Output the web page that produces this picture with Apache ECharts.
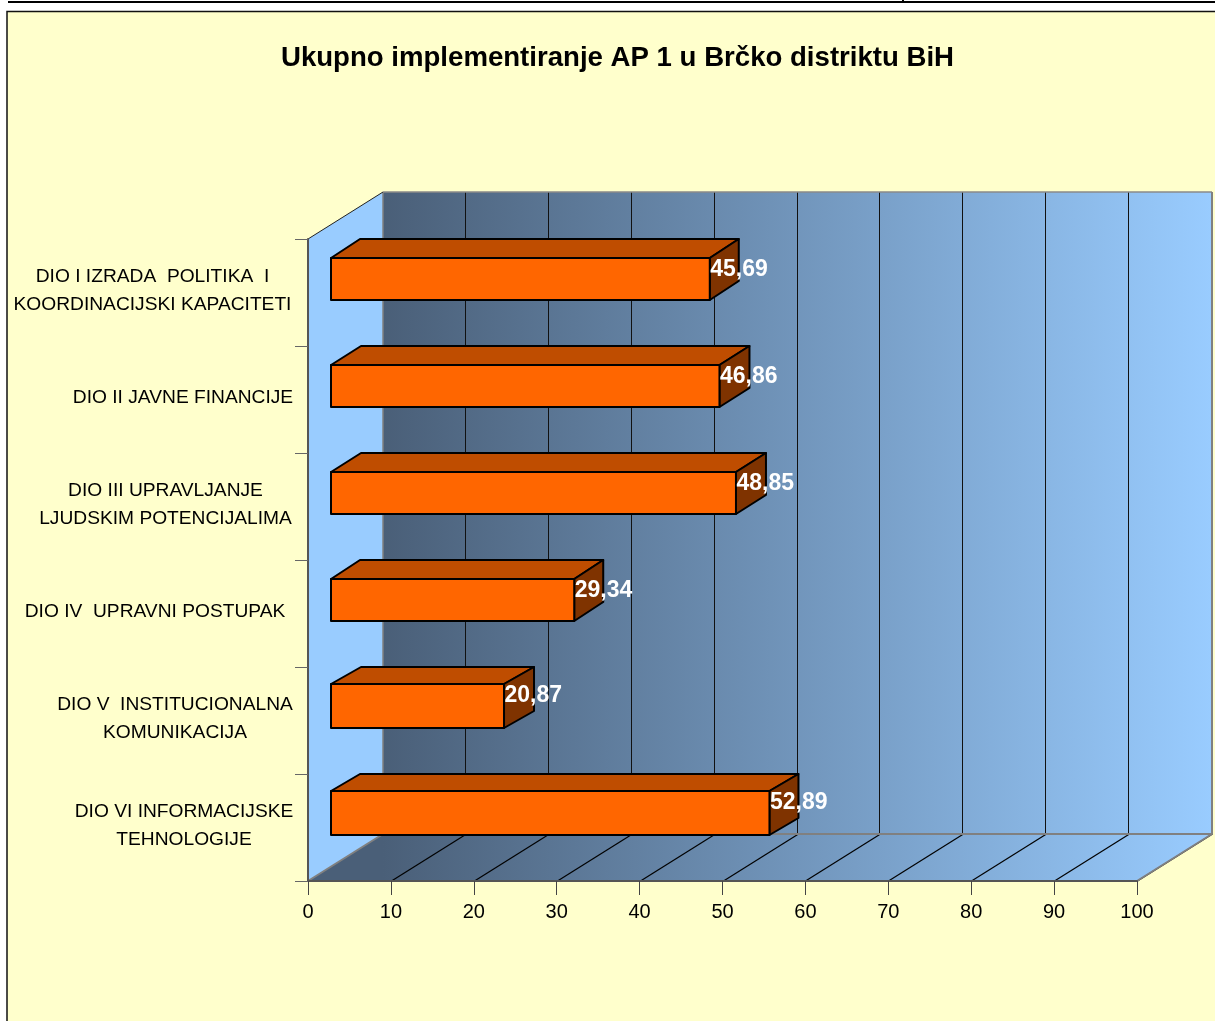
<!DOCTYPE html>
<html><head><meta charset="utf-8">
<style>html,body{margin:0;padding:0;background:#fff}#c{width:1215px;height:1021px}</style>
<script src="https://cdn.jsdelivr.net/npm/echarts@6/dist/echarts.min.js"></script>
</head><body><div id="c"></div>
<script>
const titleText = 'Ukupno implementiranje AP 1 u Brčko distriktu BiH';
const categories = [
  'DIO I IZRADA  POLITIKA  I\nKOORDINACIJSKI KAPACITETI',
  'DIO II JAVNE FINANCIJE',
  'DIO III UPRAVLJANJE\nLJUDSKIM POTENCIJALIMA',
  'DIO IV  UPRAVNI POSTUPAK',
  'DIO V  INSTITUCIONALNA\nKOMUNIKACIJA',
  'DIO VI INFORMACIJSKE\nTEHNOLOGIJE'
];
const values = [45.69, 46.86, 48.85, 29.34, 20.87, 52.89];
const gridValues = [10, 20, 30, 40, 50, 60, 70, 80, 90, 100];

// drawing style constants
const DX = 75, DY = 47;
const barInsetX = 23;
const frontInset = [19, 19, 19, 19, 17, 17];
const frontH = [42, 42, 42, 42, 44, 44];
const depthX = [29, 30, 30, 29, 30, 29];
const depthY = [19, 19, 19, 19, 17, 17];
const labelWidths = [281, 220, 255, 276, 236, 218];

const chart = echarts.init(document.getElementById('c'), null, {renderer: 'canvas'});
const wallGrad = (x0, x1) => new echarts.graphic.LinearGradient(x0, 0, x1, 0, [
  {offset: 0, color: '#4A5F78'}, {offset: 1, color: '#99CCFF'}], true);

function renderWalls(params, api) {
  const cs = params.coordSys;
  const L = cs.x, R = cs.x + cs.width, T = cs.y, B = cs.y + cs.height;
  const children = [];
  const poly = (pts, style, extra) => children.push(Object.assign({type: 'polygon', shape: {points: pts}, style}, extra || {}));
  const line = (x1, y1, x2, y2, stroke, lw) => children.push({type: 'line', shape: {x1, y1, x2, y2}, style: {stroke, lineWidth: lw, fill: null}});
  poly([[L, T], [L + DX, T - DY], [L + DX, B - DY], [L, B]], {fill: '#99CCFF'});
  poly([[L + DX, T - DY], [R + DX, T - DY], [R + DX, B - DY], [L + DX, B - DY]], {fill: wallGrad(L + DX, R + DX)});
  poly([[L, B], [L + DX, B - DY], [R + DX, B - DY], [R, B]], {fill: wallGrad(L + DX, R + DX)});
  gridValues.forEach(v => {
    const x = api.coord([v, 0])[0];
    const fx = Math.round(x) + 0.5, wx = Math.round(x + DX) - 0.5;
    if (v < 100) line(wx, T - DY, wx, B - DY, '#111', 1);
    line(fx, B, fx + DX, B - DY, '#000', 1.2);
  });
  line(L + DX, T - DY, R + DX, T - DY, '#8a8a8a', 1.5);
  line(L + DX, T - DY, L + DX, B - DY, '#808080', 1.5);
  line(L + DX, B - DY, R + DX, B - DY, '#808080', 2);
  line(R + DX, T - DY, R + DX, B - DY, '#808080', 2);
  line(R, B, R + DX, B - DY, '#808080', 2);
  line(L, B, L + DX, B - DY, '#808080', 2);
  line(L, T, L + DX, T - DY, '#222', 1);
  return {type: 'group', children};
}

function renderBar(params, api) {
  const i = api.value(1), v = api.value(0);
  const x0 = api.coord([0, i])[0] + barInsetX;
  const x1 = api.coord([v, i])[0] + barInsetX;
  const band = api.size([0, 1])[1];
  const top = api.coord([0, i])[1] - band / 2 + frontInset[i];
  const bot = top + frontH[i];
  const dx = depthX[i], dy = depthY[i];
  const st = fill => ({fill, stroke: '#000', lineWidth: 2, lineJoin: 'round'});
  return {type: 'group', children: [
    {type: 'polygon', shape: {points: [[x0, top], [x0 + dx, top - dy], [x1 + dx, top - dy], [x1, top]]}, style: st('#BF4D00')},
    {type: 'polygon', shape: {points: [[x1, top], [x1 + dx, top - dy], [x1 + dx, bot - dy], [x1, bot]]}, style: st('#7F3300')},
    {type: 'rect', shape: {x: x0, y: top, width: x1 - x0, height: bot - top}, style: st('#FF6600')},
    {type: 'text', style: {x: x1 + 0.5, y: top + 12, text: v.toFixed(2).replace('.', ','), fill: '#fff',
      font: 'bold 23px "Liberation Sans", Arial, sans-serif', textAlign: 'left', textVerticalAlign: 'middle'}}
  ]};
}

const rich = {};
labelWidths.forEach((w, i) => {
  rich['w' + i] = {width: w, align: 'center', lineHeight: 28, fontSize: 19.2, color: '#000',
    fontFamily: '"Liberation Sans", Arial, sans-serif'};
});

chart.setOption({
  animation: false,
  backgroundColor: '#ffffff',
  title: {text: titleText, left: 612.5, top: 39, textAlign: 'center',
    textStyle: {fontFamily: '"Liberation Sans", Arial, sans-serif', fontWeight: 'bold', fontSize: 27.6, color: '#000'}},
  graphic: [
    {type: 'rect', z: -100, shape: {x: 7, y: 11.5, width: 1300, height: 1100},
      style: {fill: '#FFFFCC', stroke: '#111', lineWidth: 1.5}},
    {type: 'rect', z: -99, shape: {x: 8, y: 1, width: 1207, height: 2}, style: {fill: '#000'}},
    {type: 'rect', z: -99, shape: {x: 902, y: 0, width: 2, height: 2}, style: {fill: '#000'}}
  ],
  grid: {left: 308, right: 78, top: 239, bottom: 140, containLabel: false},
  xAxis: {type: 'value', min: 0, max: 100, interval: 10, z: 10,
    splitLine: {show: false},
    axisLine: {show: true, lineStyle: {color: '#555', width: 2}},
    axisTick: {show: true, length: 14, lineStyle: {color: '#444', width: 1}},
    axisLabel: {margin: 21, fontSize: 20, color: '#000', fontFamily: '"Liberation Sans", Arial, sans-serif', hideOverlap: false}},
  yAxis: {type: 'category', inverse: true, data: categories, z: 10,
    axisLine: {show: true, lineStyle: {color: '#555', width: 2}},
    axisTick: {show: true, length: 13, alignWithLabel: false, lineStyle: {color: '#666', width: 1}},
    axisLabel: {margin: 15, align: 'right', interval: 0, padding: [0, 0, 3, 0], rich,
      formatter: (val, idx) => val.split('\n').map(s => '{w' + idx + '|' + s + '}').join('\n')}},
  series: [
    {type: 'custom', coordinateSystem: 'cartesian2d', z: 1, silent: true, renderItem: renderWalls,
      data: [[0, 0]], encode: {x: 0, y: 1}},
    {type: 'custom', coordinateSystem: 'cartesian2d', z: 2, silent: true, renderItem: renderBar,
      data: values.map((v, i) => [v, i]), encode: {x: 0, y: 1}}
  ]
});
</script></body></html>
